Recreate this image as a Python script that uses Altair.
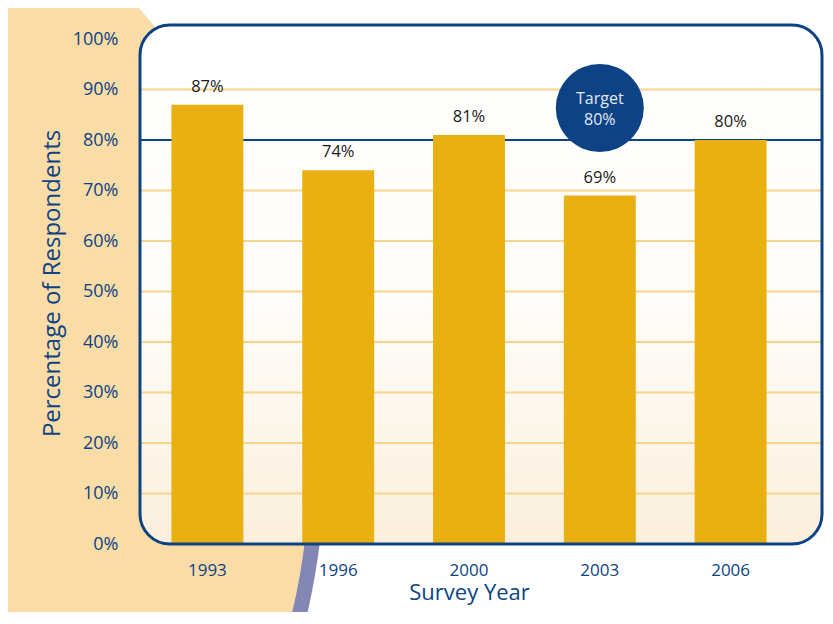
import altair as alt
import pandas as pd

# ---- data ----
years = ["1993", "1996", "2000", "2003", "2006"]
percent = [87, 74, 81, 69, 80]
y_ticks = [0, 10, 20, 30, 40, 50, 60, 70, 80, 90, 100]
grid_levels = [10, 20, 30, 40, 50, 60, 70, 90]
target_value = 80
target_year = "2003"
target_text = ["Target", "80%"]

# ---- style ----
NAVY = "#0d4385"
GOLD = "#e9b012"
PEACH = "#fadca7"
GRID = "#f8d38e"
FONT = "Open Sans"
W, H = 682, 519

bars_df = pd.DataFrame({"year": years, "pct": percent})
grid_df = pd.DataFrame({"pct": grid_levels})
target_df = pd.DataFrame({"pct": [target_value]})
badge_df = pd.DataFrame({"year": [target_year]})
one = pd.DataFrame({"k": [0]})

y_scale = alt.Scale(domain=[0, 100], range=[H, 14], nice=False, zero=True)
x_scale = alt.Scale(domain=years, range=[2, 656], paddingInner=0.45, paddingOuter=0.225)

x_axis = alt.Axis(
    title="Survey Year",
    labelAngle=0,
    domain=False,
    ticks=False,
    tickSize=0,
    grid=False,
    labelPadding=18,
    labelFontSize=17,
    labelColor=NAVY,
    labelFont=FONT,
    titleFont=FONT,
    titleFontSize=22,
    titleFontWeight="normal",
    titleColor=NAVY,
    titlePadding=4,
    zindex=2,
)
y_axis = alt.Axis(
    title="Percentage of Respondents",
    values=y_ticks,
    labelExpr="datum.value + '%'",
    domain=False,
    ticks=False,
    tickSize=0,
    grid=False,
    labelPadding=22,
    labelFontSize=18,
    labelColor=NAVY,
    labelFont=FONT,
    titleFont=FONT,
    titleFontSize=24,
    titleFontWeight="normal",
    titleColor=NAVY,
    titlePadding=8,
    titleY=258,
    zindex=2,
)

X = alt.X("year:N", scale=x_scale, sort=years, axis=x_axis, title="Survey Year")
Y = alt.Y("pct:Q", scale=y_scale, axis=y_axis, title="Percentage of Respondents")

# decorative background swoosh (symbol size = bounding-box area)
R = 677
bg = alt.Chart(one).mark_circle(size=4 * R * R, color=PEACH, opacity=1).encode(
    x=alt.value(-507), y=alt.value(433)
)
ring = alt.Chart(one).mark_arc(
    radius=R + 15, radius2=R, theta=1.69, theta2=1.86, color="#8486b4"
).encode(x=alt.value(-507), y=alt.value(433))

panel_gradient = alt.LinearGradient(
    gradient="linear",
    stops=[
        alt.GradientStop(color="#ffffff", offset=0),
        alt.GradientStop(color="#fffdf9", offset=0.55),
        alt.GradientStop(color="#fbefdc", offset=1),
    ],
    x1=0, x2=0, y1=0, y2=1,
)
panel_fill = alt.Chart(one).mark_rect(cornerRadius=30, fill=panel_gradient).encode(
    x=alt.value(0), x2=alt.value(W), y=alt.value(0), y2=alt.value(H)
)
panel_stroke = alt.Chart(one).mark_rect(
    cornerRadius=30, fillOpacity=0, stroke=NAVY, strokeWidth=3
).encode(x=alt.value(0), x2=alt.value(W), y=alt.value(0), y2=alt.value(H))

grid = alt.Chart(grid_df).mark_rule(color=GRID, strokeWidth=2).encode(y=Y)
target_rule = alt.Chart(target_df).mark_rule(color=NAVY, strokeWidth=2).encode(y=Y)

bars = alt.Chart(bars_df).mark_bar(color=GOLD).encode(x=X, y=Y)

labels = alt.Chart(bars_df).transform_calculate(
    label="datum.pct + '%'"
).mark_text(baseline="bottom", dy=-10, font=FONT, fontSize=16.5, color="#1a1a1a").encode(
    x=X, y=Y, text="label:N"
)

badge = alt.Chart(badge_df).mark_circle(size=88 * 88, color=NAVY, opacity=1).encode(
    x=X, y=alt.value(83)
)
badge_text = alt.Chart(badge_df).mark_text(
    text=target_text, font=FONT, fontSize=16, color="#e3e9f3", lineHeight=21,
    baseline="middle", dy=-9
).encode(x=X, y=alt.value(83))

chart = alt.layer(
    bg, ring, panel_fill, grid, target_rule, bars, panel_stroke, labels, badge, badge_text
).properties(
    width=W,
    height=H,
    padding={"left": 132, "top": 17, "right": 3, "bottom": 68},
    autosize=alt.AutoSizeParams(type="none"),
    background="white",
).configure_view(strokeWidth=0)

chart.save("out.html", embed_options={"renderer": "svg", "actions": False})
